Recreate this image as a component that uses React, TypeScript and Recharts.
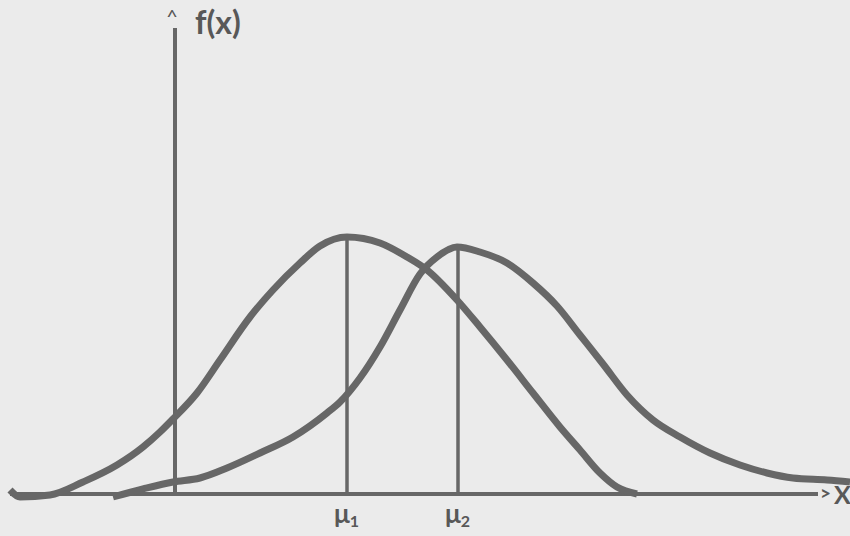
import React from "react";
import {
  ComposedChart,
  Line,
  XAxis,
  YAxis,
  ReferenceLine,
} from "recharts";

// two normal density curves, hand-traced; x and f(x) in the same units
const curve1X = [
  -1.65, -1.55, -1.25, -0.92, -0.58, -0.32, -0.15, -0.02, 0.22, 0.45, 0.75,
  0.98, 1.25, 1.45, 1.72, 2.05, 2.32, 2.52, 2.82, 3.05, 3.32, 3.58, 3.85,
  4.05, 4.25, 4.42, 4.62,
];
const curve1Y = [
  0.04, -0.03, -0.01, 0.12, 0.29, 0.47, 0.62, 0.75, 1.01, 1.34, 1.77, 2.04,
  2.31, 2.48, 2.57, 2.51, 2.37, 2.24, 1.94, 1.67, 1.34, 1.01, 0.67, 0.44,
  0.21, 0.07, 0.0,
];

const curve2X = [
  -0.62, -0.32, -0.02, 0.25, 0.52, 0.85, 1.18, 1.52, 1.65, 1.85, 2.05, 2.25,
  2.45, 2.62, 2.82, 3.05, 3.32, 3.58, 3.82, 4.05, 4.28, 4.52, 4.78, 5.05,
  5.35, 5.65, 5.92, 6.18, 6.52, 6.75,
];
const curve2Y = [
  -0.03, 0.05, 0.12, 0.16, 0.26, 0.41, 0.57, 0.81, 0.92, 1.16, 1.47, 1.84,
  2.2, 2.37, 2.47, 2.42, 2.31, 2.11, 1.88, 1.59, 1.3, 0.99, 0.74, 0.57, 0.41,
  0.29, 0.21, 0.16, 0.14, 0.12,
];

// means and the height of each curve at its mean
const means = [1.72, 2.83];
const peaks = [2.57, 2.47];
const meanLabels = ["1", "2"];

const xDomain = [-1.75, 6.75];
const yDomain = [-0.42, 4.94];
const xAxisEnd = 6.43;
const yAxisTop = 4.66;

const INK = "#676767";
const TEXT = "#585858";
const FONT = "Lato, 'Open Sans', sans-serif";

const series1 = curve1X.map((x, i) => ({ x, y: curve1Y[i] }));
const series2 = curve2X.map((x, i) => ({ x, y: curve2Y[i] }));

const YAxisLabel = (props: any) => {
  const vb = props.viewBox || {};
  return (
    <g>
      <text x={vb.x - 3} y={vb.y - 4} fontSize={20} fill={TEXT} fontFamily={FONT} textAnchor="middle">
        ^
      </text>
      <text x={vb.x + 20} y={vb.y + 6} fontSize={32} fontWeight="bold" fill={TEXT} fontFamily={FONT}>
        f(x)
      </text>
    </g>
  );
};

const XAxisLabel = (props: any) => {
  const vb = props.viewBox || {};
  const right = vb.x + vb.width;
  return (
    <g fontFamily={FONT} fill={TEXT}>
      <text x={right + 2} y={vb.y + 6} fontSize={19} fontWeight="bold">
        &gt;
      </text>
      <text x={right + 16} y={vb.y + 10} fontSize={25} fontWeight="bold">
        X
      </text>
    </g>
  );
};

const meanLabel = (sub: string) => (props: any) => {
  const vb = props.viewBox || {};
  const bottom = vb.y + vb.height;
  return (
    <text x={vb.x - 13} y={bottom + 29} fontSize={26} fontWeight="bold" fill={TEXT} fontFamily={FONT}>
      μ
      <tspan fontSize={16} dy={4}>
        {sub}
      </tspan>
    </text>
  );
};

export default function App() {
  return (
    <div
      style={{
        position: "absolute",
        left: 0,
        top: 0,
        width: 850,
        height: 536,
        background: "#ebebeb",
      }}
    >
      <ComposedChart width={850} height={536} margin={{ top: 0, right: 0, bottom: 0, left: 0 }}>
        <XAxis type="number" dataKey="x" domain={xDomain} hide allowDataOverflow />
        <YAxis type="number" domain={yDomain} hide allowDataOverflow />

        {/* axes */}
        <ReferenceLine
          segment={[{ x: xDomain[0] + 0.1, y: 0 }, { x: xAxisEnd, y: 0 }]}
          stroke={INK}
          strokeWidth={4}
          label={<XAxisLabel />}
        />
        <ReferenceLine
          segment={[{ x: 0, y: 0 }, { x: 0, y: yAxisTop }]}
          stroke={INK}
          strokeWidth={4}
          label={<YAxisLabel />}
        />

        {/* mean markers */}
        {means.map((m, i) => (
          <ReferenceLine
            key={i}
            segment={[{ x: m, y: 0 }, { x: m, y: peaks[i] }]}
            stroke={INK}
            strokeWidth={3.5}
            label={meanLabel(meanLabels[i])}
          />
        ))}

        <Line
          data={series1}
          dataKey="y"
          type="monotone"
          stroke={INK}
          strokeWidth={7}
          dot={false}
          activeDot={false}
          isAnimationActive={false}
        />
        <Line
          data={series2}
          dataKey="y"
          type="monotone"
          stroke={INK}
          strokeWidth={7}
          dot={false}
          activeDot={false}
          isAnimationActive={false}
        />
      </ComposedChart>
    </div>
  );
}
